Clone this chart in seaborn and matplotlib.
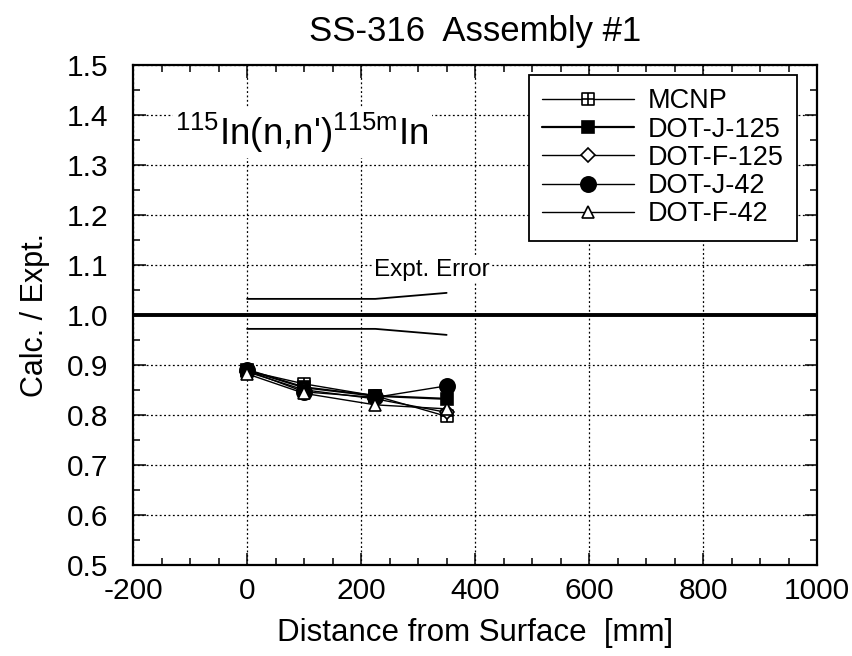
import numpy as np
import pandas as pd
import seaborn as sns
import matplotlib
matplotlib.use('Agg')
import matplotlib.pyplot as plt
from matplotlib.path import Path
from matplotlib.ticker import MultipleLocator

# data
distance = [0, 100, 225, 350]
mcnp = [0.888, 0.862, 0.838, 0.797]
dot_j_125 = [0.890, 0.855, 0.838, 0.832]
dot_f_125 = [0.886, 0.850, 0.832, 0.805]
dot_j_42 = [0.889, 0.846, 0.835, 0.858]
dot_f_42 = [0.882, 0.843, 0.820, 0.812]

err_x = [0, 225, 350]
err_upper = [1.032, 1.032, 1.044]
err_lower = [0.972, 0.972, 0.960]

labels = ['MCNP', 'DOT-J-125', 'DOT-F-125', 'DOT-J-42', 'DOT-F-42']
series = [mcnp, dot_j_125, dot_f_125, dot_j_42, dot_f_42]

# square with a cross inside, for MCNP
boxplus = Path(
    [(-1, -1), (1, -1), (1, 1), (-1, 1), (-1, -1), (0, -1), (0, 1), (-1, 0), (1, 0)],
    [Path.MOVETO, Path.LINETO, Path.LINETO, Path.LINETO, Path.CLOSEPOLY,
     Path.MOVETO, Path.LINETO, Path.MOVETO, Path.LINETO])

styles = {
    'MCNP': dict(marker=boxplus, markerfacecolor='white', markersize=9, linewidth=1.0),
    'DOT-J-125': dict(marker='s', markerfacecolor='black', markersize=9, linewidth=1.6),
    'DOT-F-125': dict(marker='D', markerfacecolor='white', markersize=7, linewidth=1.0),
    'DOT-J-42': dict(marker='o', markerfacecolor='black', markersize=11, linewidth=1.0),
    'DOT-F-42': dict(marker='^', markerfacecolor='white', markersize=9, linewidth=1.0),
}

rows = []
for name, vals in zip(labels, series):
    for x, v in zip(distance, vals):
        rows.append({'Distance': x, 'Ratio': v, 'Code': name})
df = pd.DataFrame(rows)

sns.set_style('ticks')
plt.rcParams['font.family'] = ['Liberation Sans', 'DejaVu Sans']
plt.rcParams['mathtext.fontset'] = 'custom'
plt.rcParams['mathtext.rm'] = 'Liberation Sans'
plt.rcParams['axes.unicode_minus'] = False
plt.rcParams['text.color'] = 'black'
plt.rcParams['axes.labelcolor'] = 'black'
plt.rcParams['xtick.labelcolor'] = 'black'
plt.rcParams['ytick.labelcolor'] = 'black'

fig = plt.figure(figsize=(8.53, 6.56), dpi=100)
ax = fig.add_axes([0.156, 0.139, 0.802, 0.762])

ax.axhline(1.0, color='black', linewidth=2.8, zorder=3)
sns.lineplot(x=err_x, y=err_upper, color='black', linewidth=1.3, ax=ax)
sns.lineplot(x=err_x, y=err_lower, color='black', linewidth=1.3, ax=ax)

for name in labels:
    st = styles[name]
    sns.lineplot(data=df[df['Code'] == name], x='Distance', y='Ratio', ax=ax,
                 color='black', markeredgecolor='black', markeredgewidth=1.2,
                 label=name, zorder=4, **st)

ax.set_xlim(-200, 1000)
ax.set_ylim(0.5, 1.5)
ax.xaxis.set_major_locator(MultipleLocator(200))
ax.xaxis.set_minor_locator(MultipleLocator(50))
ax.yaxis.set_major_locator(MultipleLocator(0.1))
ax.yaxis.set_minor_locator(MultipleLocator(0.05))
ax.grid(True, which='major', linestyle=(0, (1.5, 2)), color='black', linewidth=0.9)
ax.tick_params(which='both', direction='in', top=True, right=True, labelsize=21.5,
               color='black', labelcolor='black', width=1.1)
ax.tick_params(which='major', length=9)
ax.tick_params(which='minor', length=5)
ax.tick_params(axis='x', which='major', pad=9)
ax.tick_params(axis='y', which='major', pad=18)
for s in ax.spines.values():
    s.set_linewidth(1.6)
    s.set_color('black')

ax.set_xlabel('Distance from Surface  [mm]', fontsize=22.5, labelpad=9, color='black')
ax.set_ylabel('Calc. / Expt.', fontsize=22, labelpad=12, color='black')
ax.set_title('SS-316  Assembly #1', fontsize=25, pad=17, color='black')

ax.text(0.062, 0.865, r"$^{115}$In(n,n')$^{115\mathrm{m}}$In", transform=ax.transAxes,
        fontsize=26.5, va='center', ha='left', color='black',
        bbox=dict(facecolor='white', edgecolor='none', pad=2), zorder=5)
ax.text(222, 1.09, 'Expt. Error', fontsize=17.5, va='center', ha='left', color='black',
        bbox=dict(facecolor='white', edgecolor='none', pad=1), zorder=5)

leg = ax.legend(loc='upper right', bbox_to_anchor=(0.971, 0.98), fontsize=19.5,
                frameon=True, fancybox=False, edgecolor='black', framealpha=1,
                handlelength=3.4, labelspacing=0.08, borderpad=0.5, handletextpad=0.5,
                borderaxespad=0)
leg.get_frame().set_linewidth(1.3)
for t in leg.get_texts():
    t.set_color('black')

fig.savefig('out.png', dpi=100)
